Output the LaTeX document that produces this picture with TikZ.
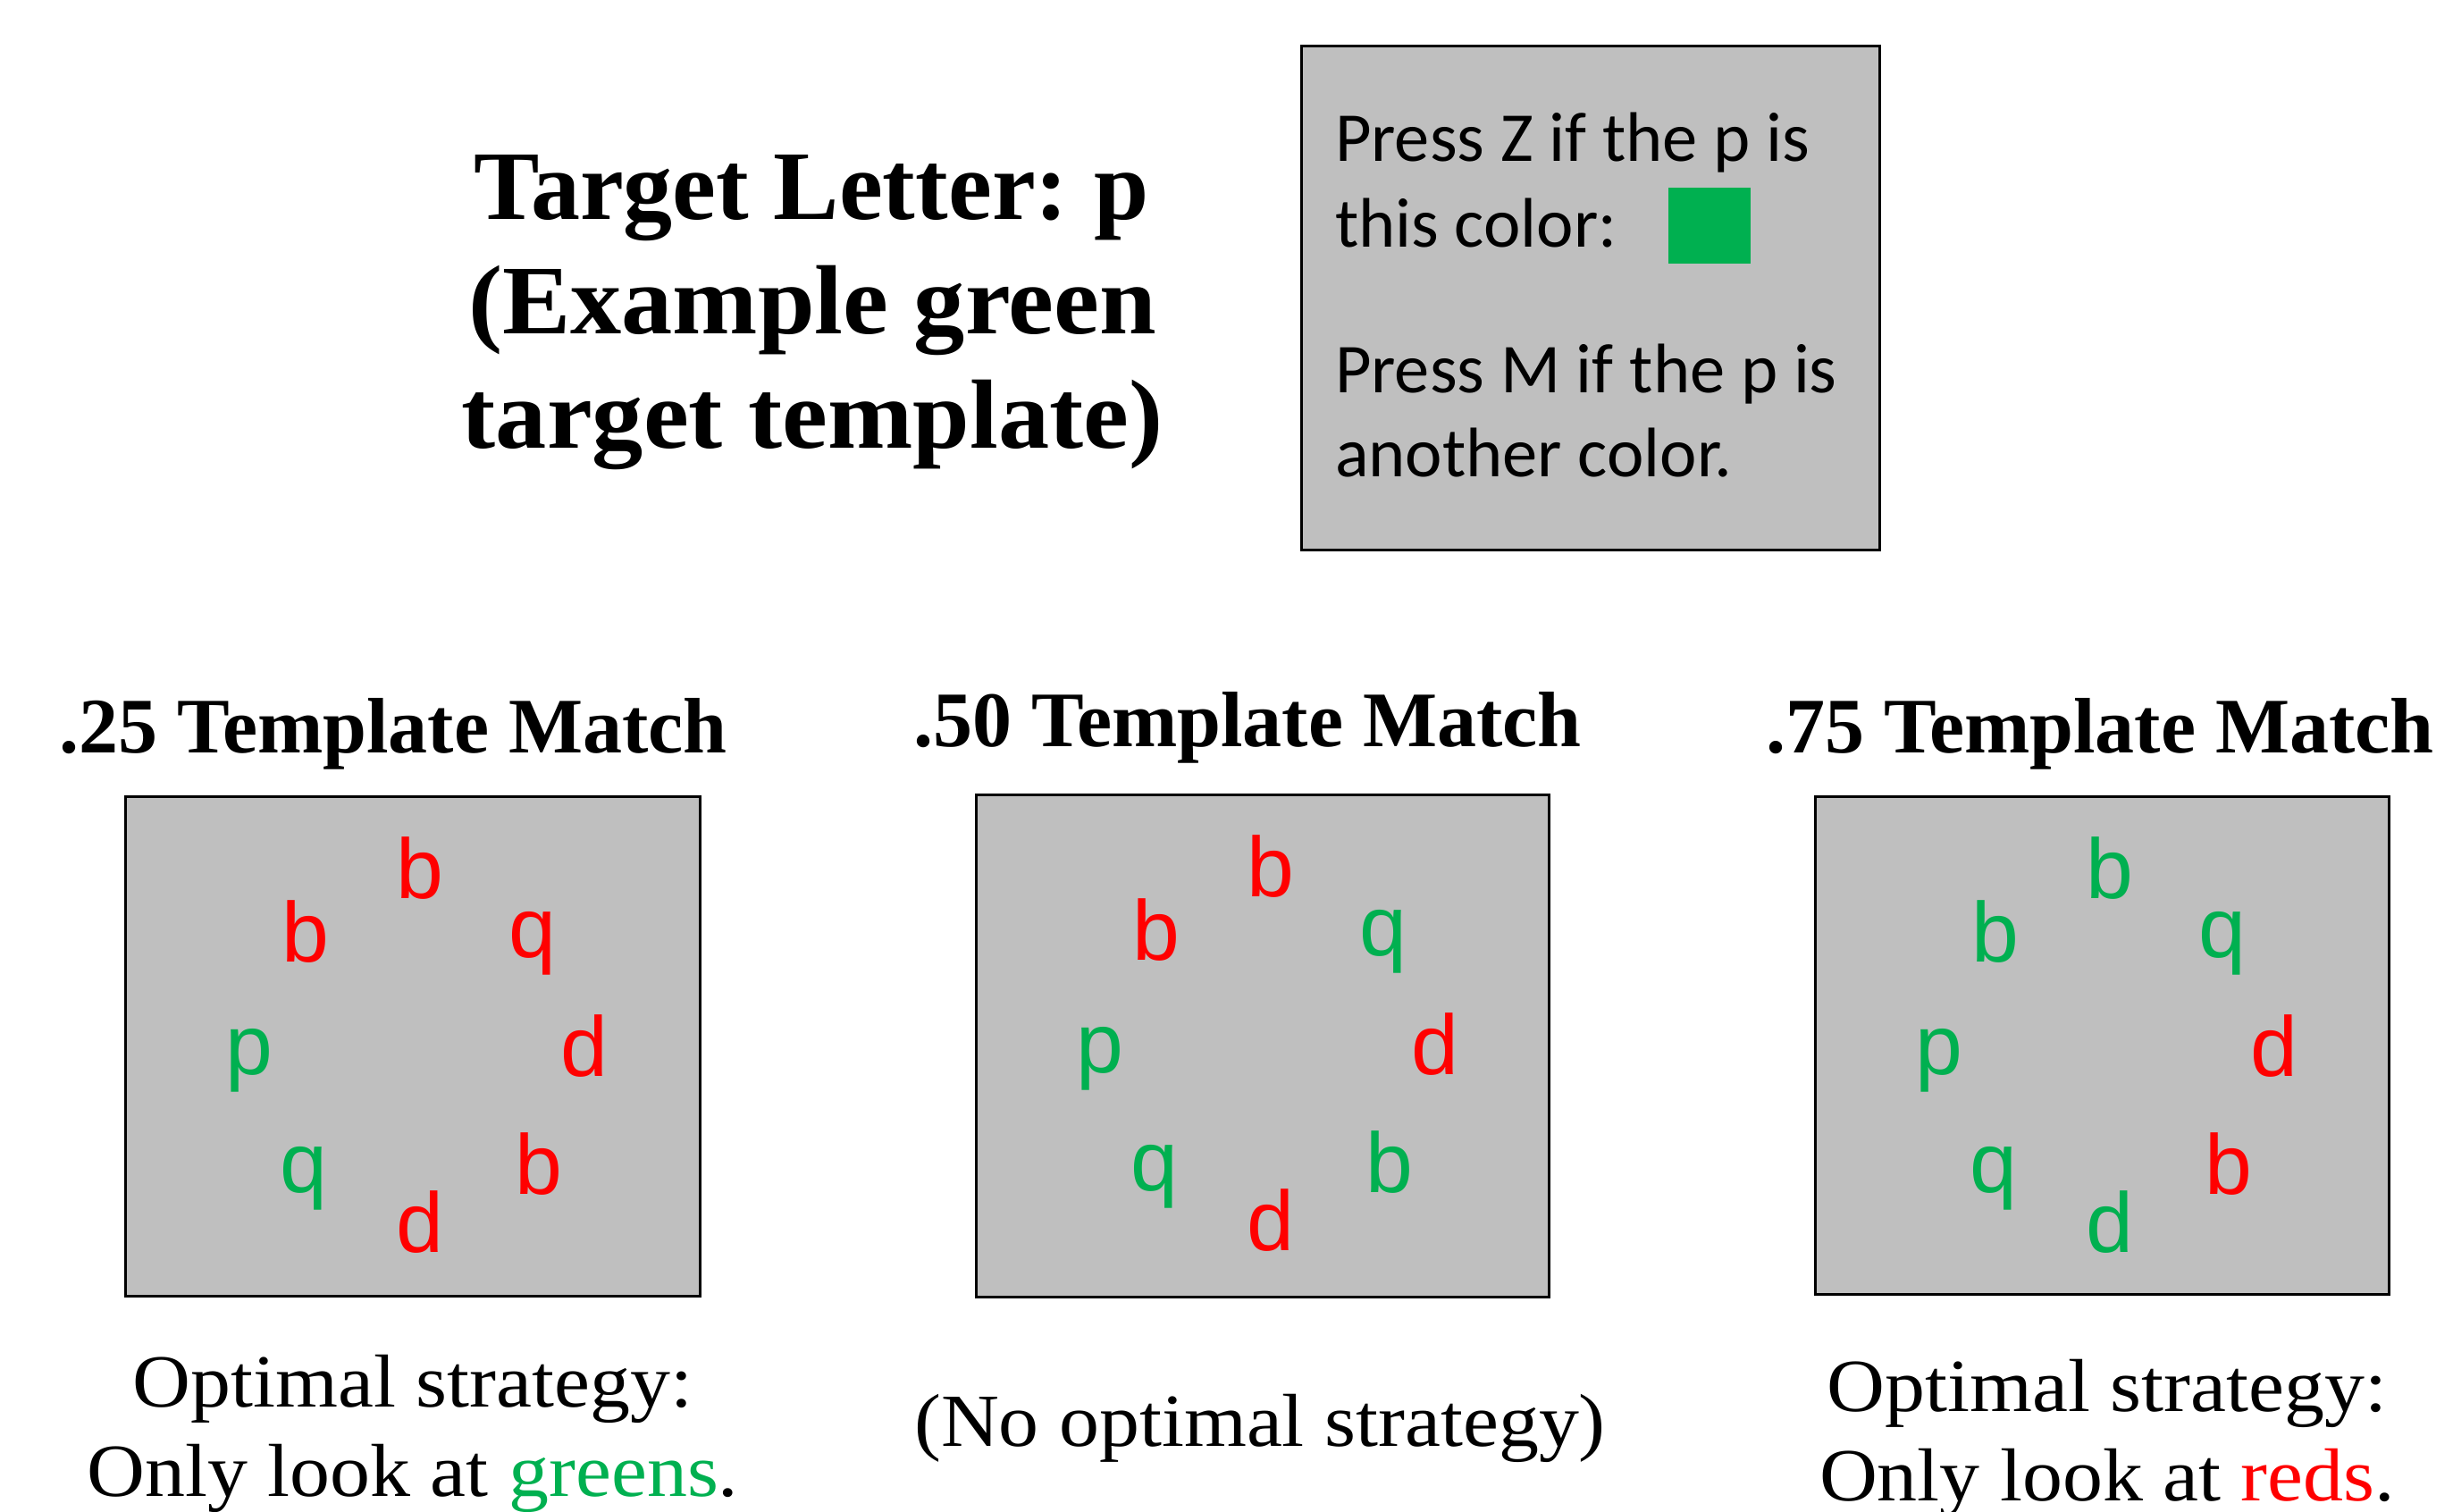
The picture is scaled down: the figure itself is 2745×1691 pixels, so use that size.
\documentclass[tikz,border=0pt]{standalone}
\usepackage{fontspec}
\setmainfont{Liberation Serif}
\newfontfamily\headfont{Liberation Serif}
\newfontfamily\headwide[FakeStretch=1.04]{Liberation Serif}
\newfontfamily\bodyfont[FakeStretch=1.07]{Liberation Serif}
\newfontfamily\calfont{Carlito}
\newfontfamily\letterfont{Liberation Sans}
\definecolor{okgreen}{HTML}{00B050}
\definecolor{panelgray}{HTML}{BFBFBF}

% eight letters on a ring inside one display panel;
% #1 = name prefix, #2..#9 = colours of the letters
\newcommand\letterring[9]{%
  \node[ltr,text=#2] (#1-b1) at (330,114) {b};
  \node[ltr,text=#3] (#1-b2) at (202,185) {b};
  \node[ltr,text=#4] (#1-q1) at (456,180) {q};
  \node[ltr,text=#5] (#1-p)  at (139,311) {p};
  \node[ltr,text=#6] (#1-d1) at (514,313) {d};
  \node[ltr,text=#7] (#1-q2) at (200,443) {q};
  \node[ltr,text=#8] (#1-b3) at (463,445) {b};
  \node[ltr,text=#9] (#1-d2) at (330,510) {d};
}

\begin{document}
\begin{tikzpicture}[x=1pt,y=-1pt,
  every node/.style={inner sep=0pt,outer sep=0pt},
  panel/.style={draw=black,line width=3pt,fill=panelgray},
  headline/.style={anchor=base,font=\headfont\bfseries\fontsize{110}{128}\selectfont},
  headlinewide/.style={anchor=base,font=\headwide\bfseries\fontsize{110}{128}\selectfont},
  paneltitle/.style={anchor=base,font=\headfont\bfseries\fontsize{88}{100}\selectfont},
  bodyline/.style={anchor=base,font=\bodyfont\fontsize{84}{100}\selectfont},
  instr/.style={anchor=base west,font=\calfont\fontsize{78.5}{94}\selectfont},
  ltr/.style={anchor=base,font=\letterfont\fontsize{95}{110}\selectfont}]

\useasboundingbox (0,0) rectangle (2745,1691);

% heading
\node[headline] (head1) at (908,245) {Target Letter:\kern-8pt{} p};
\node[headlinewide] (head2) at (909,373) {(Example green};
\node[headlinewide] (head3) at (909,501) {target template)};

% response instructions
\draw[panel] (1456,52) rectangle (2103,615);
\fill[okgreen] (1867,210) rectangle (1959,295);
\node[instr] (ins1) at (1494,180) {Press Z if the p is};
\node[instr] (ins2) at (1494,276) {this color:};
\node[instr] (ins3) at (1494,439) {Press M if the p is};
\node[instr] (ins4) at (1494,533) {another color.};

% panel titles
\node[paneltitle] (t25) at (440,842) {.25 Template Match};
\node[paneltitle] (t50) at (1396,835) {.50 Template Match};
\node[paneltitle] (t75) at (2350,842) {.75 Template Match};

% display panels
\draw[panel] (140,891) rectangle (783,1450);
\draw[panel] (1092,889) rectangle (1733,1451);
\draw[panel] (2031,891) rectangle (2673,1448);

\begin{scope}[shift={(140,891)}]
  \letterring{A}{red}{red}{red}{okgreen}{red}{okgreen}{red}{red}
\end{scope}
\begin{scope}[shift={(1092,889)}]
  \letterring{B}{red}{red}{okgreen}{okgreen}{red}{okgreen}{okgreen}{red}
\end{scope}
\begin{scope}[shift={(2031,891)}]
  \letterring{C}{okgreen}{okgreen}{okgreen}{okgreen}{red}{okgreen}{red}{okgreen}
\end{scope}

% strategy notes
\node[bodyline] (s25a) at (462,1574) {Optimal strategy:};
\node[bodyline] (s25b) at (462,1674) {Only look at \textcolor{okgreen}{greens}.};
\node[bodyline] (s50)  at (1410,1618) {(No optimal strategy)};
\node[bodyline] (s75a) at (2358,1579) {Optimal strategy:};
\node[bodyline] (s75b) at (2358,1679) {Only look at \textcolor{red}{reds}.};
\end{tikzpicture}
\end{document}
